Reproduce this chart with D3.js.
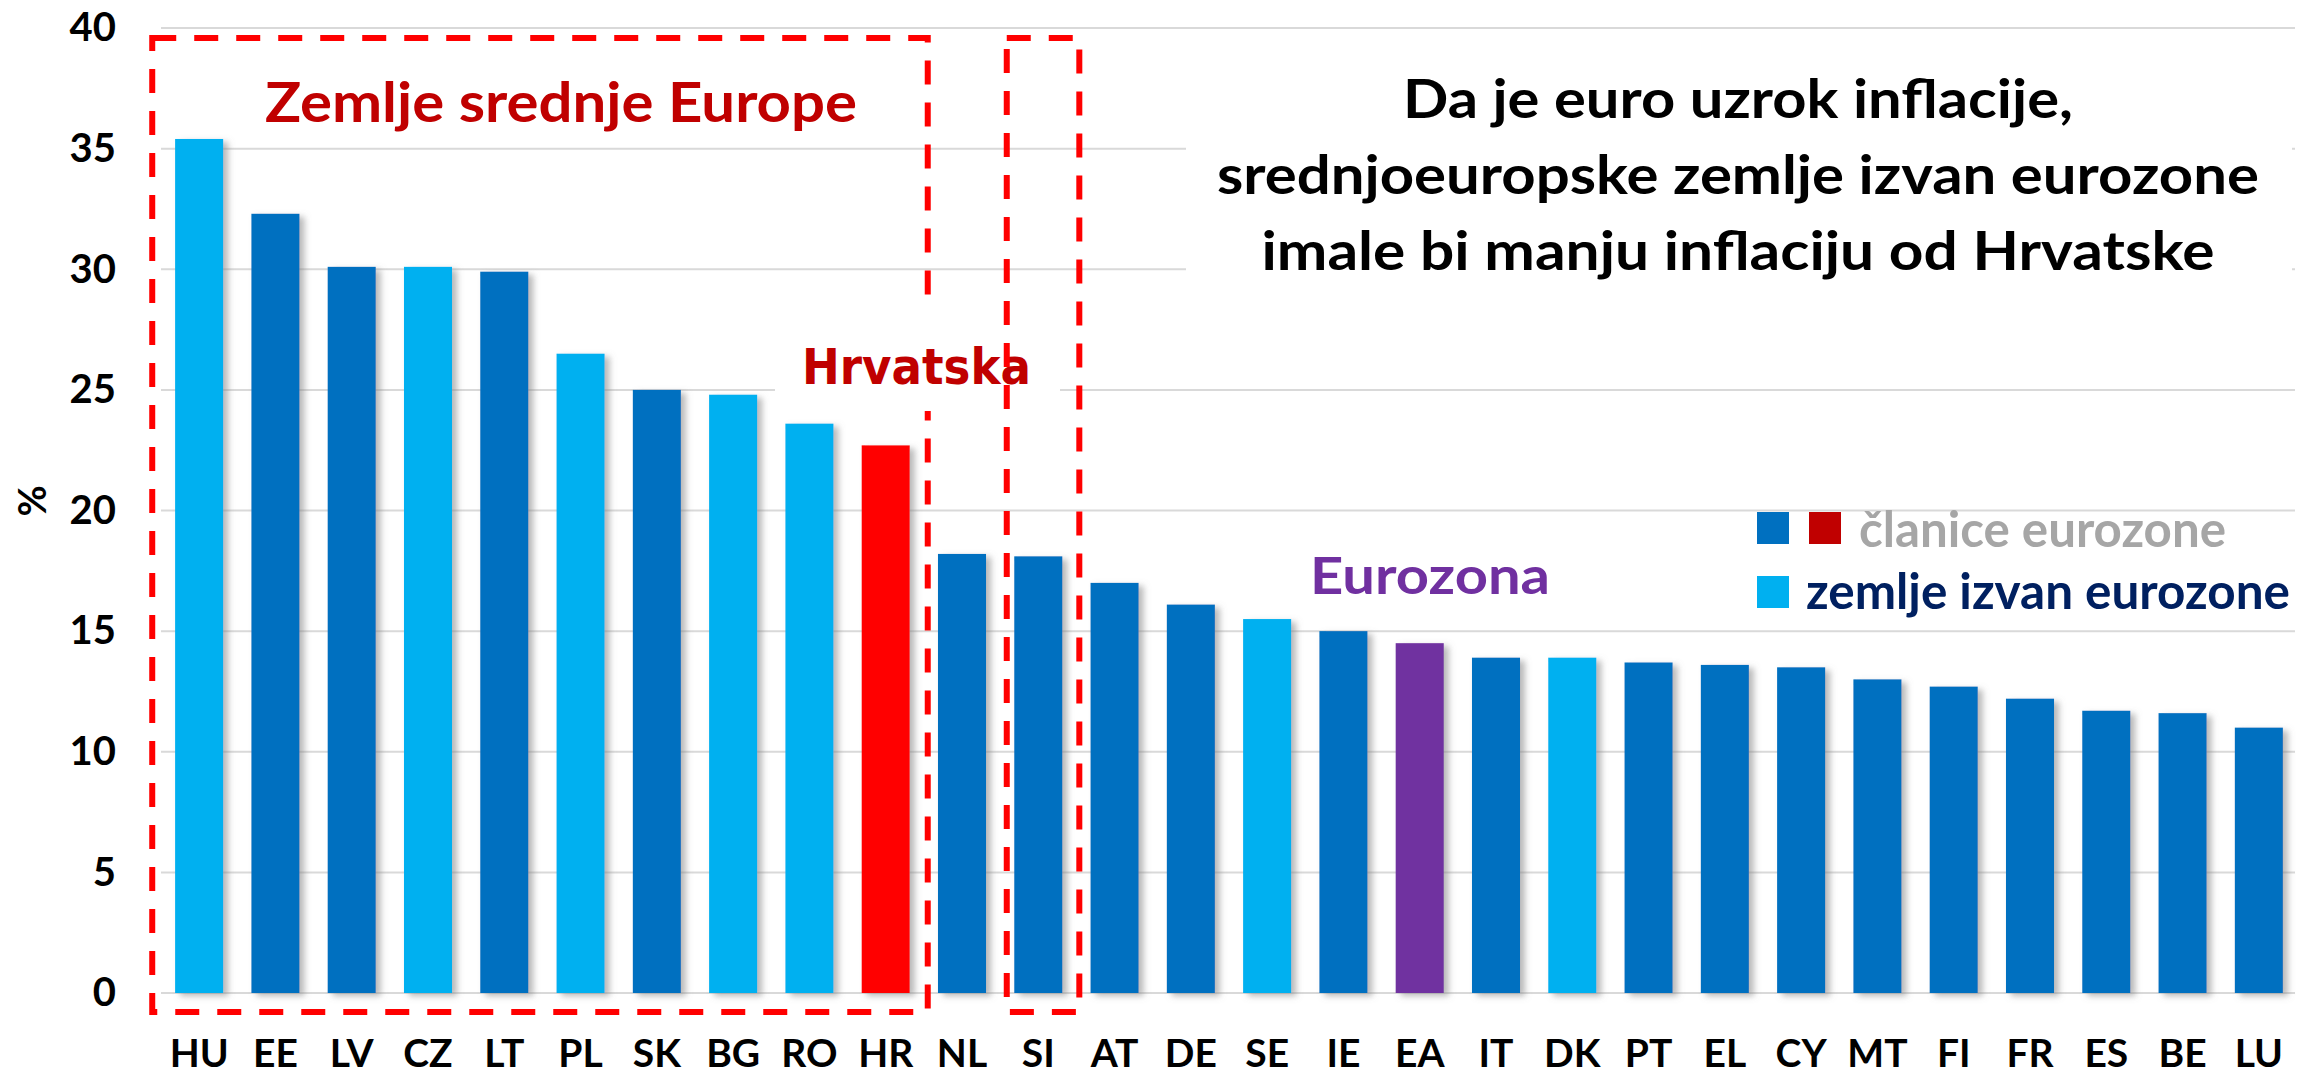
<!DOCTYPE html>
<html>
<head>
<meta charset="utf-8">
<script src="https://cdn.jsdelivr.net/npm/d3@7/dist/d3.min.js"></script>
<style>
  body { margin: 0; background: #fff; }
  svg { display: block; }
</style>
</head>
<body>
<div id="chart"></div>
<script>
var width = 2298;
var height = 1076;

// podaci
const categories = ['HU', 'EE', 'LV', 'CZ', 'LT', 'PL', 'SK', 'BG', 'RO', 'HR', 'NL', 'SI', 'AT', 'DE',
    'SE', 'IE', 'EA', 'IT', 'DK', 'PT', 'EL', 'CY', 'MT', 'FI', 'FR', 'ES', 'BE', 'LU'];
const values = [35.4, 32.3, 30.1, 30.1, 29.9, 26.5, 25.0, 24.8, 23.6, 22.7, 18.2, 18.1, 17.0, 16.1,
    15.5, 15.0, 14.5, 13.9, 13.9, 13.7, 13.6, 13.5, 13.0, 12.7, 12.2, 11.7, 11.6, 11.0];
const outsideEuro = ['HU', 'CZ', 'PL', 'BG', 'RO', 'SE', 'DK'];
const yTicks = [0, 5, 10, 15, 20, 25, 30, 35, 40];
const titleLines = ['Da je euro uzrok inflacije,', 'srednjoeuropske zemlje izvan eurozone', 'imale bi manju inflaciju od Hrvatske'];
const legendItems = ['članice eurozone', 'zemlje izvan eurozone'];

const data = categories.map((c, i) => ({ cat: c, value: values[i] }));

const plotLeft = 161, plotRight = 2297, plotTop = 28, plotBottom = 993;

const x = d3.scaleBand()
    .domain(categories)
    .range([plotLeft, plotRight])
    .paddingInner(0.37)
    .paddingOuter(0.185);

const y = d3.scaleLinear()
    .domain([0, 40])
    .range([plotBottom, plotTop]);

function barColor(d) {
    if (d.cat === 'HR') return '#FF0000';
    if (d.cat === 'EA') return '#7030A0';
    if (outsideEuro.includes(d.cat)) return '#00B0F0';
    return '#0070C0';
}

const svg = d3.select('#chart')
    .append('svg')
    .attr('width', width)
    .attr('height', height);

const defs = svg.append('defs');
defs.append('filter')
    .attr('id', 'shadow')
    .attr('x', '-20%').attr('y', '-5%').attr('width', '150%').attr('height', '115%')
    .append('feDropShadow')
    .attr('dx', 5).attr('dy', 3)
    .attr('stdDeviation', 3)
    .attr('flood-color', '#808080')
    .attr('flood-opacity', 0.55);

// mreža
svg.append('g')
    .selectAll('line')
    .data(yTicks)
    .enter()
    .append('line')
    .attr('x1', plotLeft)
    .attr('x2', 2295)
    .attr('y1', d => y(d))
    .attr('y2', d => y(d))
    .attr('stroke', '#D9D9D9')
    .attr('stroke-width', 2);

// stupci
svg.append('g')
    .selectAll('rect')
    .data(data)
    .enter()
    .append('rect')
    .attr('x', d => x(d.cat))
    .attr('y', d => y(d.value))
    .attr('width', x.bandwidth())
    .attr('height', d => y(0) - y(d.value))
    .attr('fill', barColor)
    .attr('filter', 'url(#shadow)');

// osi
const yAxis = svg.append('g')
    .attr('transform', `translate(${plotLeft},0)`)
    .call(d3.axisLeft(y).tickValues(yTicks).tickSize(0).tickPadding(45));
yAxis.select('.domain').remove();
yAxis.selectAll('text')
    .attr('font-family', 'Lato, sans-serif')
    .attr('font-weight', 700)
    .attr('font-size', 40)
    .attr('fill', '#000');

const xAxis = svg.append('g')
    .attr('transform', `translate(0,${plotBottom})`)
    .call(d3.axisBottom(x).tickSize(0).tickPadding(46));
xAxis.select('.domain').remove();
xAxis.selectAll('text')
    .attr('font-family', 'Lato, sans-serif')
    .attr('font-weight', 700)
    .attr('font-size', 39)
    .attr('fill', '#000');

svg.append('text')
    .attr('transform', 'translate(46,501) rotate(-90)')
    .attr('text-anchor', 'middle')
    .attr('font-family', 'Lato, sans-serif')
    .attr('font-weight', 700)
    .attr('font-size', 38)
    .text('%');

// crtkani okviri
function dashedBox(x0, x1) {
    svg.append('rect')
        .attr('x', x0)
        .attr('y', y(40) + 10)
        .attr('width', x1 - x0)
        .attr('height', y(0) + 19 - (y(40) + 10))
        .attr('fill', 'none')
        .attr('stroke', '#FF0000')
        .attr('stroke-width', 6)
        .attr('stroke-dasharray', '24 18');
}
const step = x.step();
dashedBox(x('HU') - 0.3 * step, x('HR') + x.bandwidth() + 18);

// Hrvatska
svg.append('rect')
    .attr('x', 775).attr('y', 303)
    .attr('width', 285).attr('height', 108)
    .attr('fill', '#fff');
svg.append('text')
    .attr('x', 802).attr('y', 384)
    .attr('font-family', '"DejaVu Sans", sans-serif')
    .attr('font-weight', 700)
    .attr('font-size', 50)
    .attr('textLength', 229)
    .attr('lengthAdjust', 'spacingAndGlyphs')
    .attr('fill', '#C00000')
    .text('Hrvatska');

dashedBox(x('SI') - 7.5, x('SI') + x.bandwidth() + 17);

svg.append('text')
    .attr('x', 265).attr('y', 122)
    .attr('font-family', 'Lato, sans-serif')
    .attr('font-weight', 700)
    .attr('font-size', 56)
    .attr('textLength', 592)
    .attr('lengthAdjust', 'spacingAndGlyphs')
    .attr('fill', '#C00000')
    .text('Zemlje srednje Europe');

// naslov
svg.append('rect')
    .attr('x', 1186).attr('y', 34)
    .attr('width', 1106).attr('height', 270)
    .attr('fill', '#fff');
const titleWidths = [670, 1042, 953];
svg.append('g')
    .selectAll('text')
    .data(titleLines)
    .enter()
    .append('text')
    .attr('x', 1738)
    .attr('y', (d, i) => 118 + i * 76)
    .attr('text-anchor', 'middle')
    .attr('font-family', 'Lato, sans-serif')
    .attr('font-weight', 700)
    .attr('font-size', 53)
    .attr('textLength', (d, i) => titleWidths[i])
    .attr('lengthAdjust', 'spacingAndGlyphs')
    .attr('fill', '#000')
    .text(d => d);

// legenda
svg.append('rect').attr('x', 1757).attr('y', 512).attr('width', 32).attr('height', 32).attr('fill', '#0070C0');
svg.append('rect').attr('x', 1809).attr('y', 512).attr('width', 32).attr('height', 32).attr('fill', '#C00000');
svg.append('rect').attr('x', 1757).attr('y', 576).attr('width', 32).attr('height', 32).attr('fill', '#00B0F0');

svg.append('text')
    .attr('x', 1859).attr('y', 547)
    .attr('font-family', 'Lato, sans-serif')
    .attr('font-weight', 700)
    .attr('font-size', 50)
    .attr('textLength', 367)
    .attr('lengthAdjust', 'spacingAndGlyphs')
    .attr('fill', '#A6A6A6')
    .text(legendItems[0]);

svg.append('text')
    .attr('x', 1806).attr('y', 609)
    .attr('font-family', 'Lato, sans-serif')
    .attr('font-weight', 700)
    .attr('font-size', 50)
    .attr('textLength', 484)
    .attr('lengthAdjust', 'spacingAndGlyphs')
    .attr('fill', '#002060')
    .text(legendItems[1]);

svg.append('text')
    .attr('x', 1310).attr('y', 594)
    .attr('font-family', 'Lato, sans-serif')
    .attr('font-weight', 700)
    .attr('font-size', 52)
    .attr('textLength', 240)
    .attr('lengthAdjust', 'spacingAndGlyphs')
    .attr('fill', '#7030A0')
    .text('Eurozona');
</script>
</body>
</html>
